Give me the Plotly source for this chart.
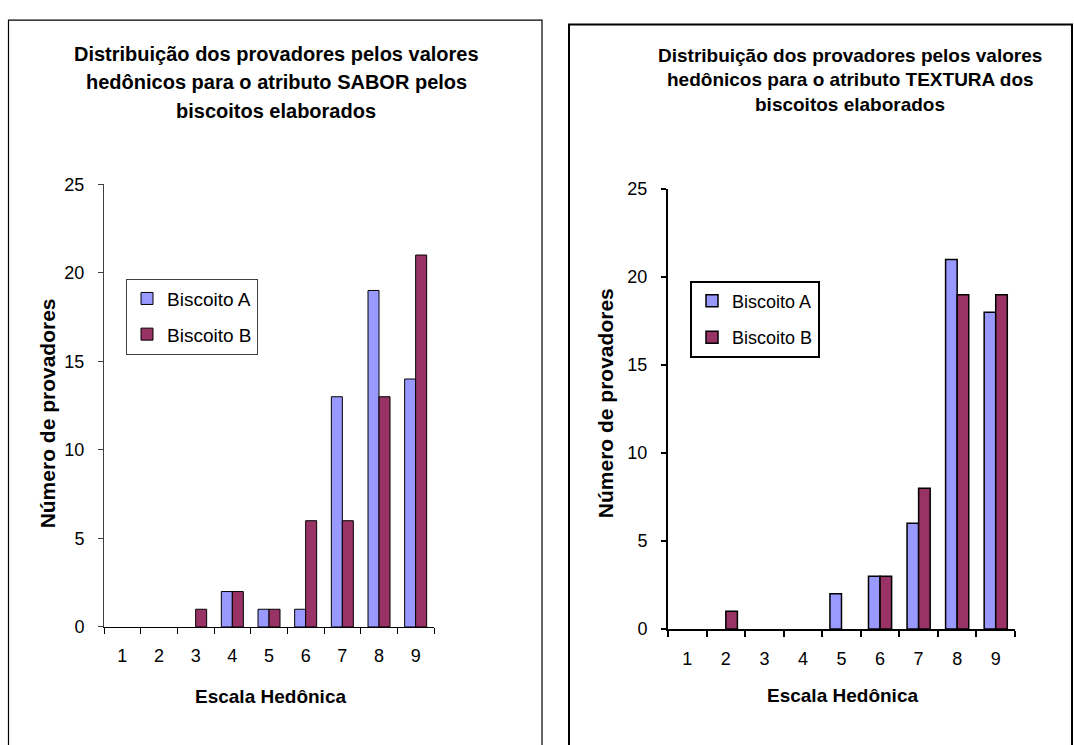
import plotly.graph_objects as go

W, H = 1074, 745

categories = ["1", "2", "3", "4", "5", "6", "7", "8", "9"]
sabor_a = [0, 0, 0, 2, 1, 1, 13, 19, 14]
sabor_b = [0, 0, 1, 2, 1, 6, 6, 13, 21]
textura_a = [0, 0, 0, 0, 2, 3, 6, 21, 18]
textura_b = [0, 1, 0, 0, 0, 3, 8, 19, 19]
y_ticks = [0, 5, 10, 15, 20, 25]
series_names = ["Biscoito A", "Biscoito B"]

title_left_lines = ["Distribuição dos provadores pelos valores",
                    "hedônicos para o atributo SABOR pelos",
                    "biscoitos elaborados"]
title_right_lines = ["Distribuição dos provadores pelos valores",
                     "hedônicos para o atributo TEXTURA dos",
                     "biscoitos elaborados"]
xlab = "Escala Hedônica"
ylab = "Número de provadores"

COL_A = "#9999FF"
COL_B = "#993366"
FONT = "Arial, Liberation Sans, sans-serif"


def px(x):
    return x / W


def py(y):
    return 1 - y / H


def edge_widths(values, w):
    # no outline on empty (zero-height) bars, as in the original
    return [w if v else 0 for v in values]


fig = go.Figure()

panels = [
    ("x", "y", "legend", sabor_a, sabor_b, 1),
    ("x2", "y2", "legend2", textura_a, textura_b, 1.5),
]
for xa, ya, leg, vals_a, vals_b, lw in panels:
    for name, vals, col, grp in [(series_names[0], vals_a, COL_A, "A"), (series_names[1], vals_b, COL_B, "B")]:
        # data bars
        fig.add_trace(go.Bar(x=categories, y=vals, name=name, showlegend=False, offsetgroup=grp,
                             marker=dict(color=col, line=dict(color="black", width=edge_widths(vals, lw))),
                             xaxis=xa, yaxis=ya, legendgroup=leg + grp))
        # legend entry (outlined swatch), shares the same bar slot, draws nothing
        fig.add_trace(go.Bar(x=[categories[0]], y=[None], name=name, showlegend=True, offsetgroup=grp,
                             marker=dict(color=col, line=dict(color="black", width=lw)),
                             xaxis=xa, yaxis=ya, legend=leg, legendgroup=leg + grp, hoverinfo="skip"))

common_x = dict(type="category", categoryorder="array", categoryarray=categories, showgrid=False, zeroline=False,
                ticks="outside", tickson="boundaries",
                ticklen=6, tickfont=dict(size=18, color="black", family=FONT), ticklabelstandoff=12,
                showline=True, fixedrange=True)
common_y = dict(range=[0, 25], tickvals=y_ticks, showgrid=False, zeroline=False, ticks="outside", ticklen=5,
                tickfont=dict(size=18, color="black", family=FONT), ticklabelstandoff=10, showline=True,
                fixedrange=True)

annotations = []
for txt, yy in zip(title_left_lines, [45, 74.5, 103.5]):
    annotations.append(dict(text="<b>" + txt + "</b>", x=px(276), y=py(yy), xref="paper", yref="paper",
                            showarrow=False, font=dict(size=20, family=FONT), xanchor="center", yanchor="middle"))
for txt, yy in zip(title_right_lines, [47, 71.5, 97.5]):
    annotations.append(dict(text="<b>" + txt + "</b>", x=px(850), y=py(yy), xref="paper", yref="paper",
                            showarrow=False, font=dict(size=19, family=FONT), xanchor="center", yanchor="middle"))
annotations += [
    dict(text="<b>" + ylab + "</b>", x=px(47), y=py(414.5), xref="paper", yref="paper", textangle=-90,
         showarrow=False, font=dict(size=21, family=FONT), xanchor="center", yanchor="middle"),
    dict(text="<b>" + xlab + "</b>", x=px(270.5), y=py(705), xref="paper", yref="paper",
         showarrow=False, font=dict(size=19, family=FONT), xanchor="center", yanchor="middle"),
    dict(text="<b>" + ylab + "</b>", x=px(605), y=py(404), xref="paper", yref="paper", textangle=-90,
         showarrow=False, font=dict(size=21, family=FONT), xanchor="center", yanchor="middle"),
    dict(text="<b>" + xlab + "</b>", x=px(842), y=py(704), xref="paper", yref="paper",
         showarrow=False, font=dict(size=19, family=FONT), xanchor="center", yanchor="middle"),
]

fig.update_layout(
    width=W, height=H,
    margin=dict(l=0, r=0, t=0, b=0),
    paper_bgcolor="white", plot_bgcolor="white",
    barmode="group", bargap=0.4, bargroupgap=0,
    font=dict(family=FONT, color="black"),
    xaxis=dict(domain=[px(104), px(434)], anchor="y", linecolor="black", linewidth=1, tickcolor="black", **common_x),
    yaxis=dict(domain=[py(634), py(179)], anchor="x", linecolor="#404040", linewidth=1, tickcolor="#404040", **common_y),
    xaxis2=dict(domain=[px(668), px(1015)], anchor="y2", linecolor="black", linewidth=2, tickcolor="black", tickwidth=2, **common_x),
    yaxis2=dict(domain=[py(636), py(184)], anchor="x2", linecolor="black", linewidth=2, tickcolor="black", tickwidth=2, **common_y),
    legend=dict(x=px(126), y=py(276), xanchor="left", yanchor="top", bordercolor="#404040", borderwidth=1,
                bgcolor="white", font=dict(size=19, family=FONT), traceorder="grouped", tracegroupgap=8,
                itemwidth=30, itemclick=False, itemdoubleclick=False),
    legend2=dict(x=px(690), y=py(278), xanchor="left", yanchor="top", bordercolor="black", borderwidth=2,
                 bgcolor="white", font=dict(size=18, family=FONT), traceorder="grouped", tracegroupgap=10,
                 itemwidth=30, itemclick=False, itemdoubleclick=False),
    shapes=[
        dict(type="rect", xref="paper", yref="paper", x0=px(8.5), x1=px(542), y0=py(10.5), y1=py(800),
             line=dict(color="black", width=1.2)),
        dict(type="rect", xref="paper", yref="paper", x0=px(569), x1=px(1072), y0=py(15), y1=py(800),
             line=dict(color="black", width=2)),
    ],
    annotations=annotations,
)

fig.write_html("out.html", config={"displayModeBar": False},
               post_script="document.body.style.margin='0';document.body.style.overflow='hidden';")
